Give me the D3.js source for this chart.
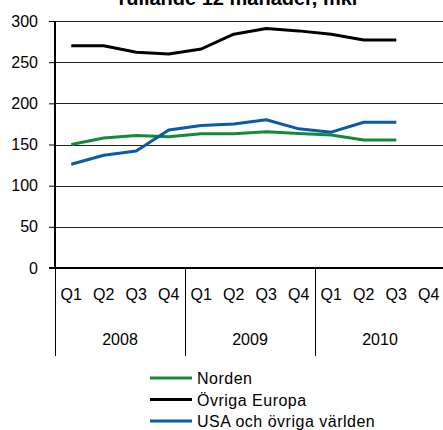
<!DOCTYPE html>
<html>
<head>
<meta charset="utf-8">
<script src="https://cdn.jsdelivr.net/npm/d3@7"></script>
<style>
  body { margin: 0; background: #fff; }
  text { font-family: "Liberation Sans", Arial, sans-serif; fill: #000; }
</style>
</head>
<body>
<script>
const quarters = ["Q1", "Q2", "Q3", "Q4"];
const years = ["2008", "2009", "2010"];
const norden = [150, 158, 161, 159.5, 163, 163, 165.5, 163.5, 161.5, 155.5, 155.5];
const ovrigaEuropa = [270, 270, 262, 260, 266, 284, 291, 288, 284, 277, 277];
const usa = [126, 137, 142, 167.5, 173, 175, 180, 169, 165, 177, 177];
const yTicks = [0, 50, 100, 150, 200, 250, 300];

const series = [
    {name: "Norden", values: norden, color: "#15893a"},
    {name: "Övriga Europa", values: ovrigaEuropa, color: "#000000"},
    {name: "USA och övriga världen", values: usa, color: "#0b5aa6"}
];

const categories = [];
years.forEach(y => quarters.forEach(q => categories.push(y + "-" + q)));

const W = 443, H = 430;
const plotLeft = 55, plotRight = 445, plotTop = 21, plotBottom = 268;

const svg = d3.select("body").append("svg")
    .attr("width", W)
    .attr("height", H);

const x = d3.scaleBand().domain(categories).range([plotLeft, plotRight]);
const yearX = d3.scaleBand().domain(years).range([plotLeft, plotRight]);
const y = d3.scaleLinear().domain([0, 300]).range([plotBottom, plotTop]);

// title (partly cut off at the top, as in the original)
svg.append("text")
    .attr("x", 239)
    .attr("y", 5)
    .attr("text-anchor", "middle")
    .style("font-size", "20px")
    .style("font-weight", "bold")
    .text("rullande 12 månader, mkr");

// gridlines
svg.append("g")
    .selectAll("line")
    .data(yTicks.filter(d => d > 0))
    .enter()
    .append("line")
    .attr("x1", plotLeft).attr("x2", W)
    .attr("y1", d => Math.round(y(d)) + 0.5)
    .attr("y2", d => Math.round(y(d)) + 0.5)
    .attr("stroke", "#222")
    .attr("stroke-width", 1);

// y axis
const yAxis = d3.axisLeft(y).tickValues(yTicks).tickSize(6).tickPadding(11);
const gy = svg.append("g")
    .attr("transform", `translate(${plotLeft}, 0)`)
    .call(yAxis);
gy.select(".domain").remove();
gy.selectAll(".tick line").attr("stroke", "#000");
gy.selectAll(".tick text").style("font-size", "16px").attr("font-family", null);

svg.append("line")
    .attr("x1", plotLeft).attr("x2", plotLeft)
    .attr("y1", plotTop).attr("y2", plotBottom)
    .attr("stroke", "#000").attr("stroke-width", 2);

// lines
const line = d3.line()
    .x((d, i) => x(categories[i]) + x.bandwidth() / 2)
    .y(d => y(d));

svg.append("g")
    .selectAll("path")
    .data(series)
    .enter()
    .append("path")
    .attr("fill", "none")
    .attr("stroke", d => d.color)
    .attr("stroke-width", 3)
    .attr("stroke-linejoin", "round")
    .attr("d", d => line(d.values));

// x axis
svg.append("line")
    .attr("x1", plotLeft - 6).attr("x2", W)
    .attr("y1", plotBottom).attr("y2", plotBottom)
    .attr("stroke", "#000").attr("stroke-width", 2);

svg.append("g")
    .selectAll("text")
    .data(categories)
    .enter()
    .append("text")
    .attr("x", d => x(d) + x.bandwidth() / 2)
    .attr("y", 300)
    .attr("text-anchor", "middle")
    .style("font-size", "16px")
    .text(d => d.split("-")[1]);

svg.append("g")
    .selectAll("line")
    .data(years)
    .enter()
    .append("line")
    .attr("x1", d => Math.round(yearX(d)) + 0.5)
    .attr("x2", d => Math.round(yearX(d)) + 0.5)
    .attr("y1", plotBottom).attr("y2", 356)
    .attr("stroke", "#000").attr("stroke-width", 1);

svg.append("g")
    .selectAll("text")
    .data(years)
    .enter()
    .append("text")
    .attr("x", d => yearX(d) + yearX.bandwidth() / 2)
    .attr("y", 345)
    .attr("text-anchor", "middle")
    .style("font-size", "16px")
    .text(d => d);

// legend
const legend = svg.append("g")
    .selectAll("g")
    .data(series)
    .enter()
    .append("g")
    .attr("transform", (d, i) => `translate(150, ${378 + i * 21.5})`);

legend.append("line")
    .attr("x1", 0).attr("x2", 42)
    .attr("stroke", d => d.color)
    .attr("stroke-width", 3);

legend.append("text")
    .attr("x", 47)
    .attr("y", 6)
    .style("font-size", "16px")
    .style("letter-spacing", "0.5px")
    .text(d => d.name);
</script>
</body>
</html>
